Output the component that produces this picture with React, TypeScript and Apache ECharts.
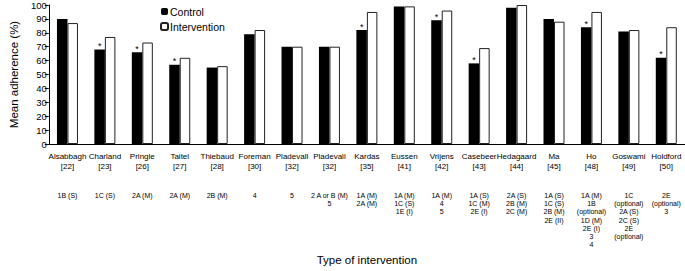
import React, { useEffect, useRef } from "react";
import * as echarts from "echarts";

const studyNames = ["Alsabbagh", "Charland", "Pringle", "Taitel", "Thiebaud", "Foreman", "Pladevall", "Pladevall", "Kardas", "Eussen", "Vrijens", "Casebeer", "Hedagaard", "Ma", "Ho", "Goswami", "Holdford"];
const refNumbers = ["[22]", "[23]", "[26]", "[27]", "[28]", "[30]", "[32]", "[32]", "[35]", "[41]", "[42]", "[43]", "[44]", "[45]", "[48]", "[49]", "[50]"];
const interventionTypes = [
  "1B (S)",
  "1C (S)",
  "2A (M)",
  "2A (M)",
  "2B (M)",
  "4",
  "5",
  "2 A or B (M)\n5",
  "1A (M)\n2A (M)",
  "1A (M)\n1C (S)\n1E (I)",
  "1A (M)\n4\n5",
  "1A (S)\n1C (M)\n2E (I)",
  "2A (S)\n2B (M)\n2C (M)",
  "1A (S)\n1C (S)\n2B (M)\n2E (II)",
  "1A (M)\n1B\n(optional)\n1D (M)\n2E (I)\n3\n4",
  "1C\n(optional)\n2A (S)\n2C (S)\n2E\n(optional)",
  "2E\n(optional)\n3",
];
const controlValues = [90, 68, 66, 57, 55, 79, 70, 70, 82, 99, 89, 58, 98, 90, 84, 81, 62];
const interventionValues = [87, 77, 73, 62, 56, 82, 70, 70, 95, 99, 96, 69, 100, 88, 95, 82, 84];
const significant = [false, true, true, true, false, false, false, false, true, false, true, true, false, false, true, false, true];
const yTicks = { min: 0, max: 100, interval: 10 };

const FONT = '"Liberation Sans", Arial, Helvetica, sans-serif';

export default function App() {
  const ref = useRef<HTMLDivElement>(null);
  useEffect(() => {
    document.body.style.margin = "0";
    if (!ref.current) return;
    const chart = echarts.init(ref.current, null, { renderer: "svg" });
    const idx = studyNames.map((_, i) => String(i));
    chart.setOption({
      animation: false,
      textStyle: { fontFamily: FONT, color: "#000" },
      legend: {
        orient: "vertical",
        left: 155,
        top: 1,
        itemWidth: 7,
        itemHeight: 7,
        itemGap: 4,
        textStyle: { fontFamily: FONT, fontSize: 10.5, color: "#000", padding: [0, 0, 0, -3] },
        data: ["Control", "Intervention"],
      },
      grid: { left: 40, top: 5, width: 647, height: 151, containLabel: false },
      xAxis: [
        {
          type: "category",
          data: idx,
          position: "bottom",
          axisLine: { show: true, lineStyle: { color: "#000", width: 1 } },
          axisTick: { show: false },
          axisLabel: {
            interval: 0,
            margin: 7,
            fontFamily: FONT,
            fontSize: 8,
            lineHeight: 10,
            color: "#000",
            formatter: (_v: string, i: number) => studyNames[i] + "\n" + refNumbers[i],
          },
        },
        {
          type: "category",
          data: idx,
          position: "bottom",
          axisLine: { show: false },
          axisTick: { show: false },
          axisLabel: {
            interval: 0,
            margin: 47,
            fontFamily: FONT,
            fontSize: 7,
            lineHeight: 8.3,
            color: "#000",
            formatter: (_v: string, i: number) => interventionTypes[i],
          },
          name: "Type of intervention",
          nameLocation: "middle",
          nameGap: 104,
          nameTextStyle: { fontFamily: FONT, fontSize: 11.5, color: "#000" },
        },
      ],
      yAxis: {
        type: "value",
        min: yTicks.min,
        max: yTicks.max,
        interval: yTicks.interval,
        axisLine: { show: true, lineStyle: { color: "#000", width: 1 } },
        axisTick: { show: true, length: 4, lineStyle: { color: "#000" } },
        splitLine: { show: false },
        axisLabel: { fontFamily: FONT, fontSize: 9.5, color: "#000", margin: 2 },
        name: "Mean adherence (%)",
        nameLocation: "middle",
        nameRotate: 90,
        nameGap: 27,
        nameTextStyle: { fontFamily: FONT, fontSize: 11.5, color: "#000" },
      },
      series: [
        {
          name: "Control",
          type: "bar",
          xAxisIndex: 0,
          barWidth: 10.5,
          barGap: "0%",
          itemStyle: { color: "#000", borderColor: "#000", borderWidth: 0 },
          data: controlValues.map((v, i) => ({
            value: v,
            label: {
              show: significant[i],
              position: "top",
              distance: -1,
              formatter: "*",
              fontFamily: FONT,
              fontSize: 9,
              color: "#000",
            },
          })),
        },
        {
          name: "Intervention",
          type: "bar",
          xAxisIndex: 0,
          barWidth: 10.5,
          barGap: "0%",
          itemStyle: { color: "#fff", borderColor: "#222", borderWidth: 1 },
          data: interventionValues,
        },
      ],
    });
    return () => chart.dispose();
  }, []);
  return <div ref={ref} style={{ width: 685, height: 271 }} />;
}
